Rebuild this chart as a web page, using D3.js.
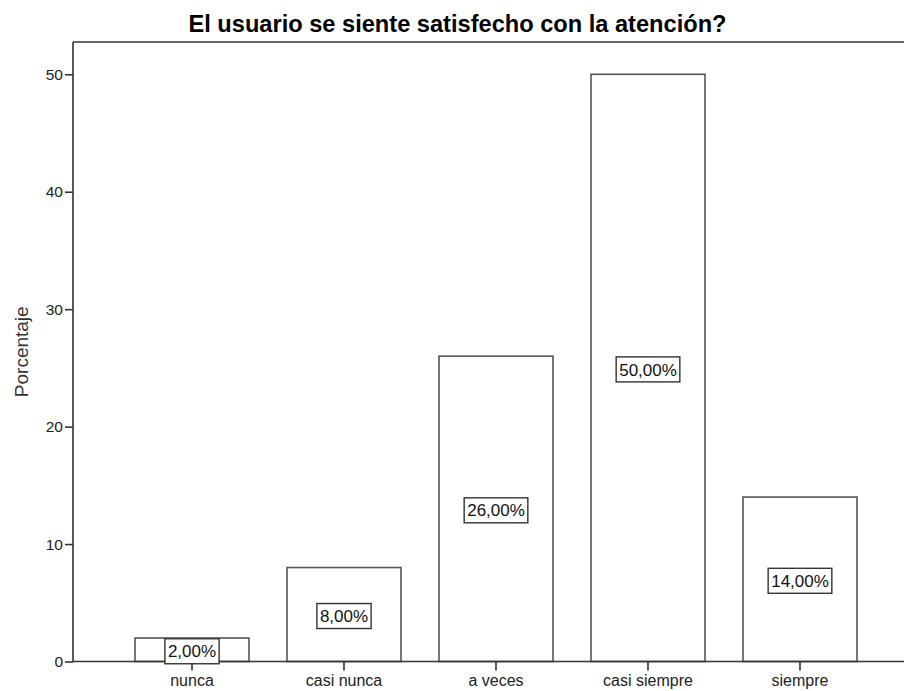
<!DOCTYPE html>
<html>
<head>
<meta charset="utf-8">
<script src="https://cdn.jsdelivr.net/npm/d3@7/dist/d3.min.js"></script>
<style>
  html, body { margin: 0; padding: 0; background: #fff; }
  svg { display: block; }
  text { font-family: "Liberation Sans", Arial, sans-serif; }
</style>
</head>
<body>
<svg id="chart" width="904" height="691"></svg>
<script>
// Survey answers and their share of respondents (%)
const categories = ["nunca", "casi nunca", "a veces", "casi siempre", "siempre"];
const percentages = [2, 8, 26, 50, 14];
const yTicks = [0, 10, 20, 30, 40, 50];
const title = "El usuario se siente satisfecho con la atención?";
const yLabel = "Porcentaje";

const FONT = "\"Liberation Sans\", Arial, sans-serif";
const svg = d3.select("#chart");
const frame = { left: 73, top: 42, right: 920, bottom: 661.5 };

const x = d3.scaleBand()
  .domain(categories)
  .range([116, 876])
  .paddingInner(0.25)
  .paddingOuter(0.125);

const y = d3.scaleLinear()
  .domain([0, 52.75])
  .range([frame.bottom, frame.top]);

const fmt = v => v.toFixed(2).replace(".", ",") + "%";

// Title
svg.append("text")
  .attr("x", 457.5)
  .attr("y", 32)
  .attr("text-anchor", "middle")
  .attr("font-size", 23)
  .attr("font-weight", "bold")
  .attr("fill", "#000")
  .attr("textLength", 538)
  .attr("lengthAdjust", "spacingAndGlyphs")
  .text(title);

// Plot frame (top edge; left and bottom come from the axes)
svg.append("line")
  .attr("x1", frame.left).attr("x2", frame.right)
  .attr("y1", frame.top).attr("y2", frame.top)
  .attr("stroke", "#333").attr("stroke-width", 1.6);

// Bars
svg.append("g").selectAll("rect")
  .data(categories)
  .join("rect")
  .attr("x", d => x(d))
  .attr("width", x.bandwidth())
  .attr("y", (d, i) => y(percentages[i]))
  .attr("height", (d, i) => y(0) - y(percentages[i]))
  .attr("fill", "#fff")
  .attr("stroke", "#555")
  .attr("stroke-width", 1.6);

// Y axis
const yAxis = svg.append("g")
  .attr("transform", `translate(${frame.left},0)`)
  .call(d3.axisLeft(y).tickValues(yTicks).tickSize(8).tickPadding(2).tickSizeOuter(0));
yAxis.select(".domain").remove();
yAxis.append("line")
  .attr("x1", 0).attr("x2", 0)
  .attr("y1", frame.top).attr("y2", frame.bottom)
  .attr("stroke", "#333").attr("stroke-width", 1.6);
yAxis.selectAll(".tick line").attr("stroke", "#333").attr("stroke-width", 1.6);
yAxis.selectAll(".tick text")
  .attr("font-size", 15.5).attr("fill", "#222")
  .attr("font-family", FONT);

// X axis
const xAxis = svg.append("g")
  .attr("transform", `translate(0,${frame.bottom})`)
  .call(d3.axisBottom(x).tickSize(9).tickPadding(4).tickSizeOuter(0));
xAxis.select(".domain").remove();
xAxis.append("line")
  .attr("x1", frame.left).attr("x2", frame.right)
  .attr("y1", 0).attr("y2", 0)
  .attr("stroke", "#333").attr("stroke-width", 1.6);
xAxis.selectAll(".tick line").attr("stroke", "#333").attr("stroke-width", 1.6);
xAxis.selectAll(".tick text")
  .attr("font-size", 16).attr("fill", "#222")
  .attr("font-family", FONT);

// Y axis title
svg.append("text")
  .attr("transform", `translate(28,${(frame.top + frame.bottom) / 2}) rotate(-90)`)
  .attr("text-anchor", "middle")
  .attr("font-size", 19)
  .attr("fill", "#333")
  .text(yLabel);

// Value labels in boxes at mid-height of each bar
const labels = svg.append("g").selectAll("g")
  .data(categories)
  .join("g")
  .attr("transform", (d, i) => `translate(${x(d) + x.bandwidth() / 2},${y(percentages[i] / 2) + 1.5})`);

labels.append("text")
  .attr("text-anchor", "middle")
  .attr("dy", "0.36em")
  .attr("font-size", 17)
  .attr("fill", "#111")
  .text((d, i) => fmt(percentages[i]));

labels.each(function () {
  const g = d3.select(this);
  const bb = g.select("text").node().getBBox();
  g.insert("rect", "text")
    .attr("x", bb.x - 3)
    .attr("y", -12.5)
    .attr("width", bb.width + 6)
    .attr("height", 25)
    .attr("fill", "#fff")
    .attr("stroke", "#333")
    .attr("stroke-width", 1.4);
});
</script>
</body>
</html>
